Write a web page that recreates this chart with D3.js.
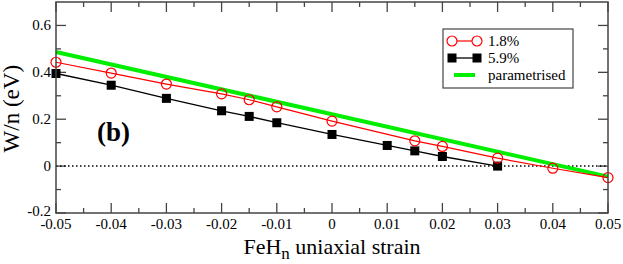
<!DOCTYPE html>
<html>
<head>
<meta charset="utf-8">
<script src="https://cdn.jsdelivr.net/npm/d3@7"></script>
<style>
  body { margin: 0; background: #fff; }
</style>
</head>
<body>
<div id="chart"></div>
<script>
// values
var redX = [-0.05, -0.04, -0.03, -0.02, -0.015, -0.01, 0, 0.015, 0.02, 0.03, 0.04, 0.05];
var redY = [0.443, 0.397, 0.350, 0.308, 0.283, 0.253, 0.192, 0.108, 0.084, 0.034, -0.009, -0.049];
var blackX = [-0.05, -0.04, -0.03, -0.02, -0.015, -0.01, 0, 0.01, 0.015, 0.02, 0.03];
var blackY = [0.395, 0.345, 0.289, 0.236, 0.212, 0.185, 0.135, 0.088, 0.065, 0.041, 0.0];
var greenX = [-0.05, 0.05];
var greenY = [0.487, -0.045];
var xTicks = [-0.05, -0.04, -0.03, -0.02, -0.01, 0, 0.01, 0.02, 0.03, 0.04, 0.05];
var yTicks = [-0.2, 0, 0.2, 0.4, 0.6];
var seriesNames = ['1.8%', '5.9%', 'parametrised'];

var width = 623, height = 264;
var padL = 56, padR = 608, padT = 2, padB = 213;
var serif = "'Liberation Serif', 'Times New Roman', serif";

var svg = d3.select('#chart').append('svg')
  .attr('width', width)
  .attr('height', height);

var x = d3.scaleLinear().domain([-0.05, 0.05]).range([padL, padR]);
var y = d3.scaleLinear().domain([-0.2, 0.7]).range([padB, padT]);

var frameColor = '#444';
var majorLen = 10, minorLen = 5;

//minor tick positions
var xMinor = d3.range(-0.045, 0.05, 0.01);
var yMinor = [-0.1, 0.1, 0.3, 0.5];

var ticks = svg.append('g').attr('stroke', frameColor).attr('stroke-width', 1.3);

//bottom and top ticks
xTicks.concat(xMinor).forEach(function(v, i) {
  var len = i < xTicks.length ? majorLen : minorLen;
  ticks.append('line').attr('x1', x(v)).attr('x2', x(v)).attr('y1', padB).attr('y2', padB - len);
  ticks.append('line').attr('x1', x(v)).attr('x2', x(v)).attr('y1', padT).attr('y2', padT + len);
});

//left and right ticks
yTicks.concat(yMinor).forEach(function(v, i) {
  var len = i < yTicks.length ? majorLen : minorLen;
  ticks.append('line').attr('x1', padL).attr('x2', padL + len).attr('y1', y(v)).attr('y2', y(v));
  ticks.append('line').attr('x1', padR).attr('x2', padR - len).attr('y1', y(v)).attr('y2', y(v));
});

//zero line
svg.append('line')
  .attr('x1', padL).attr('x2', padR)
  .attr('y1', y(0)).attr('y2', y(0))
  .attr('stroke', '#000')
  .attr('stroke-width', 1.5)
  .attr('stroke-dasharray', '1.5,2.5');

var line = d3.line()
  .x(function(d) { return x(d[0]); })
  .y(function(d) { return y(d[1]); });

var red = d3.zip(redX, redY);
var black = d3.zip(blackX, blackY);
var green = d3.zip(greenX, greenY);

svg.append('path').datum(green).attr('d', line)
  .attr('fill', 'none').attr('stroke', '#00ee00').attr('stroke-width', 4);

svg.append('path').datum(black).attr('d', line)
  .attr('fill', 'none').attr('stroke', '#000').attr('stroke-width', 1.3);

svg.append('path').datum(red).attr('d', line)
  .attr('fill', 'none').attr('stroke', '#ff0000').attr('stroke-width', 1.2);

svg.selectAll('rect.sq').data(black).enter().append('rect')
  .attr('class', 'sq')
  .attr('x', function(d) { return x(d[0]) - 4.5; })
  .attr('y', function(d) { return y(d[1]) - 4.5; })
  .attr('width', 9).attr('height', 9)
  .attr('fill', '#000');

svg.selectAll('circle.c').data(red).enter().append('circle')
  .attr('class', 'c')
  .attr('cx', function(d) { return x(d[0]); })
  .attr('cy', function(d) { return y(d[1]); })
  .attr('r', 5)
  .attr('fill', 'none')
  .attr('stroke', '#ff0000')
  .attr('stroke-width', 1.2);

//frame
svg.append('rect')
  .attr('x', padL).attr('y', padT)
  .attr('width', padR - padL).attr('height', padB - padT)
  .attr('fill', 'none').attr('stroke', frameColor).attr('stroke-width', 1.5);

//tick labels
svg.selectAll('text.xt').data(xTicks).enter().append('text')
  .attr('class', 'xt')
  .attr('x', function(d) { return x(d); })
  .attr('y', 229)
  .attr('text-anchor', 'middle')
  .style('font-size', '15px')
  .text(function(d) { return d === 0 ? '0' : d3.format('.2f')(d).replace('−', '-'); });

svg.selectAll('text.yt').data(yTicks).enter().append('text')
  .attr('class', 'yt')
  .attr('x', padL - 5)
  .attr('y', function(d) { return y(d) + (d === -0.2 ? 3 : 5); })
  .attr('text-anchor', 'end')
  .style('font-size', '15px')
  .text(function(d) { return d === 0 ? '0' : d3.format('.1f')(d).replace('−', '-'); });

//axis titles
var xt = svg.append('text')
  .attr('x', x(0))
  .attr('y', 254)
  .attr('text-anchor', 'middle')
  .style('font-size', '22px');
xt.append('tspan').text('FeH');
xt.append('tspan').style('font-size', '17px').attr('dy', 5).text('n');
xt.append('tspan').attr('dy', -5).text(' uniaxial strain');

svg.append('text')
  .attr('transform', 'translate(19,' + y(0.245) + ') rotate(-90)')
  .attr('text-anchor', 'middle')
  .style('font-size', '23px')
  .text('W/n (eV)');

svg.append('text')
  .attr('x', 97).attr('y', 141)
  .style('font-size', '27px')
  .style('font-weight', 'bold')
  .text('(b)');

//legend
var lg = svg.append('g');
lg.append('rect')
  .attr('x', 443).attr('y', 29)
  .attr('width', 130).attr('height', 59)
  .attr('fill', '#fff').attr('stroke', frameColor).attr('stroke-width', 1.2);

var rows = [41, 58, 75];
var lx1 = 452, lx2 = 477;

lg.append('line').attr('x1', lx1).attr('x2', lx2).attr('y1', rows[0]).attr('y2', rows[0])
  .attr('stroke', '#ff0000').attr('stroke-width', 1.2);
[lx1, lx2].forEach(function(cx) {
  lg.append('circle').attr('cx', cx).attr('cy', rows[0]).attr('r', 5)
    .attr('fill', '#fff').attr('stroke', '#ff0000').attr('stroke-width', 1.2);
});

lg.append('line').attr('x1', lx1).attr('x2', lx2).attr('y1', rows[1]).attr('y2', rows[1])
  .attr('stroke', '#000').attr('stroke-width', 1.3);
[lx1, lx2].forEach(function(cx) {
  lg.append('rect').attr('x', cx - 4.5).attr('y', rows[1] - 4.5).attr('width', 9).attr('height', 9)
    .attr('fill', '#000');
});

lg.append('line').attr('x1', lx1 + 2).attr('x2', lx2 - 2).attr('y1', rows[2]).attr('y2', rows[2])
  .attr('stroke', '#00ee00').attr('stroke-width', 4);

lg.selectAll('text.lt').data(seriesNames).enter().append('text')
  .attr('class', 'lt')
  .attr('x', 488)
  .attr('y', function(d, i) { return rows[i] + 5; })
  .style('font-size', '15px')
  .text(function(d) { return d; });

//serif on every text element
svg.selectAll('text, tspan').style('font-family', serif);
</script>
</body>
</html>
